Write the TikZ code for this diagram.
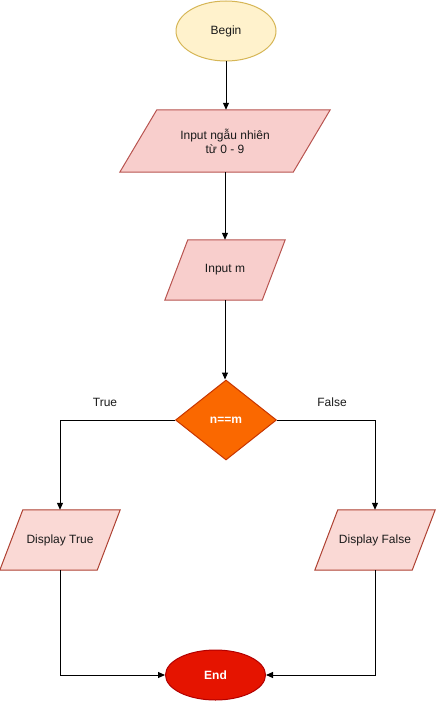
\documentclass[tikz,border=0pt]{standalone}
\usepackage{fontspec}
\setmainfont{Liberation Sans}
\usetikzlibrary{shapes.geometric,arrows.meta}
\definecolor{beginfill}{HTML}{FFF2CC}
\definecolor{begindraw}{HTML}{D6B656}
\definecolor{parafill}{HTML}{F8CECC}
\definecolor{paradraw}{HTML}{B85450}
\definecolor{dispfill}{HTML}{FAD9D5}
\definecolor{dispdraw}{HTML}{AE4132}
\definecolor{decfill}{HTML}{FA6800}
\definecolor{decdraw}{HTML}{C73500}
\definecolor{endfill}{HTML}{E51400}
\definecolor{enddraw}{HTML}{B20000}
\definecolor{txt}{HTML}{1A1A1A}
\tikzset{
  every node/.style={font=\fontsize{12}{14}\selectfont, text=txt},
  term/.style={ellipse, inner sep=0pt, minimum width=100pt, minimum height=#1, line width=1pt},
  parabox/.style={rectangle, inner sep=0pt, align=center},
  paraline/.style={line width=1pt},
  flow/.style={line width=1pt, -{Triangle[length=7pt,width=6pt]}},
  lbl/.style={inner sep=0pt}
}
\begin{document}
\begin{tikzpicture}[x=1pt,y=-1pt]
\useasboundingbox (0,0) rectangle (436,701);
% Begin
\node[term=60pt, fill=beginfill, draw=begindraw] (begin) at (226,31) {Begin};
% Input random
\node[parabox, minimum width=210pt, minimum height=62pt] (inrand) at (225,141) {};
\draw[paraline, fill=parafill, draw=paradraw]
  ([xshift=37pt]inrand.north west) -- (inrand.north east) -- ([xshift=-37pt]inrand.south east) -- (inrand.south west) -- cycle;
\node[parabox] (inrandtext) at (inrand) {Input ngẫu nhiên\\từ 0 - 9};
% Input m
\node[parabox, minimum width=120pt, minimum height=60pt] (inm) at (225,270) {};
\draw[paraline, fill=parafill, draw=paradraw]
  ([xshift=23pt]inm.north west) -- (inm.north east) -- ([xshift=-23pt]inm.south east) -- (inm.south west) -- cycle;
\node[parabox] (inmtext) at (inm) {Input m};
% Decision
\node[diamond, inner sep=0pt, minimum width=101pt, minimum height=80pt, fill=decfill, draw=decdraw, line width=1pt, text=white, font=\fontsize{12}{14}\selectfont\bfseries] (dec) at (226,420) {n==m};
% Display True
\node[parabox, minimum width=120pt, minimum height=60pt] (dtrue) at (60,540) {};
\draw[paraline, fill=dispfill, draw=dispdraw]
  ([xshift=23pt]dtrue.north west) -- (dtrue.north east) -- ([xshift=-23pt]dtrue.south east) -- (dtrue.south west) -- cycle;
\node[parabox] (dtruetext) at (dtrue) {Display True};
% Display False
\node[parabox, minimum width=120pt, minimum height=60pt] (dfalse) at (375,540) {};
\draw[paraline, fill=dispfill, draw=dispdraw]
  ([xshift=23pt]dfalse.north west) -- (dfalse.north east) -- ([xshift=-23pt]dfalse.south east) -- (dfalse.south west) -- cycle;
\node[parabox] (dfalsetext) at (dfalse) {Display False};
% End
\node[term=50pt, fill=endfill, draw=enddraw, text=white, font=\fontsize{12}{14}\selectfont\bfseries] (end) at (215.5,675) {End};
% Connectors
\draw[flow] (begin.south) -- (begin.south |- inrand.north);
\draw[flow] (inrand.south) -- (inrand.south |- inm.north);
\draw[flow] (inm.south) -- (inm.south |- dec.north);
\draw[flow] (dec.west) -| (dtrue.north);
\draw[flow] (dec.east) -| (dfalse.north);
\draw[flow] (dtrue.south) |- (end.west);
\draw[flow] (dfalse.south) |- (end.east);
% Labels
\node[lbl] (ltrue) at (105,402) {True};
\node[lbl] (lfalse) at (332,402) {False};
\end{tikzpicture}
\end{document}
